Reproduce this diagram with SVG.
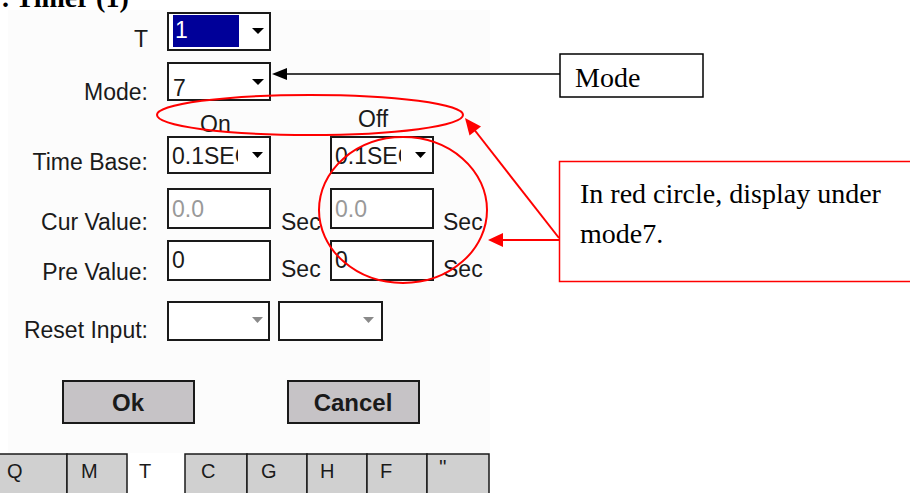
<svg xmlns="http://www.w3.org/2000/svg" width="910" height="493" viewBox="0 0 910 493">
<style>
.ui{font-family:"Liberation Sans",Arial,sans-serif;font-size:23px;fill:#1a1a1a}
.lbl{text-anchor:end}
.box{fill:#fff;stroke:#1a1a1a;stroke-width:2}
.btn{fill:#c6c3c6;stroke:#1a1a1a;stroke-width:2}
.tab{fill:#d0d0d0;stroke:#1a1a1a;stroke-width:1.5}
.tri{fill:#000}
.gtri{fill:#8a8a8a}
.grey{fill:#999}
.bold{font-weight:bold;font-size:24px;text-anchor:middle}
.ser{font-family:"Liberation Serif","Times New Roman",serif;fill:#000}
.red{fill:none;stroke:#f00;stroke-width:2}
.tk{font-size:20px}
</style>
<defs>
<clipPath id="c1"><rect x="168" y="137" width="70" height="36"/></clipPath>
<clipPath id="c2"><rect x="331" y="137" width="70" height="36"/></clipPath>
</defs>
<rect x="8" y="10" width="482" height="443" fill="#fcfcfc"/>
<text x="2" y="7" class="ser" font-size="28" font-weight="bold">. Timer (1)</text>

<g id="t-field">
<text x="148" y="47" class="ui lbl">T</text>
<rect x="168" y="13" width="102" height="37" class="box"/>
<rect x="173" y="15" width="66" height="32" fill="#000099"/>
<text x="175" y="38" class="ui" style="fill:#fff">1</text>
<polygon points="252,28 264,28 258,34" class="tri"/>
</g>

<g id="mode-field">
<text x="148" y="100" class="ui lbl">Mode:</text>
<rect x="168" y="63" width="102" height="37" class="box"/>
<text x="173" y="96" class="ui">7</text>
<polygon points="252,79 264,79 258,85" class="tri"/>
</g>

<g id="onoff">
<text x="200" y="132" class="ui">On</text>
<text x="358" y="127" class="ui">Off</text>
</g>

<g id="timebase">
<text x="148" y="170" class="ui lbl">Time Base:</text>
<rect x="168" y="137" width="102" height="36" class="box"/>
<text x="172" y="164" class="ui" clip-path="url(#c1)">0.1SEC</text>
<polygon points="252,152 263,152 257.5,158" class="tri"/>
<rect x="331" y="137" width="102" height="36" class="box"/>
<text x="335" y="164" class="ui" clip-path="url(#c2)">0.1SEC</text>
<polygon points="415,152 426,152 420.5,158" class="tri"/>
</g>

<g id="curvalue">
<text x="148" y="230" class="ui lbl">Cur Value:</text>
<rect x="168" y="189" width="102" height="39" class="box"/>
<text x="172" y="217" class="ui grey">0.0</text>
<text x="281" y="230" class="ui">Sec</text>
<rect x="331" y="189" width="102" height="39" class="box"/>
<text x="335" y="217" class="ui grey">0.0</text>
<text x="443" y="230" class="ui">Sec</text>
</g>

<g id="prevalue">
<text x="148" y="280" class="ui lbl">Pre Value:</text>
<rect x="168" y="241" width="102" height="39" class="box"/>
<text x="172" y="268" class="ui">0</text>
<text x="281" y="277" class="ui">Sec</text>
<rect x="331" y="241" width="102" height="39" class="box"/>
<text x="335" y="268" class="ui">0</text>
<text x="443" y="277" class="ui">Sec</text>
</g>

<g id="reset">
<text x="148" y="338" class="ui lbl">Reset Input:</text>
<rect x="168" y="302" width="101" height="38" class="box"/>
<polygon points="252,317 263,317 257.5,323" class="gtri"/>
<rect x="279" y="302" width="103" height="38" class="box"/>
<polygon points="363,317 374,317 368.5,323" class="gtri"/>
</g>

<g id="ok-btn">
<rect x="63" y="381" width="131" height="42" class="btn"/>
<text x="128" y="411" class="ui bold">Ok</text>
</g>
<g id="cancel-btn">
<rect x="288" y="381" width="131" height="42" class="btn"/>
<text x="353" y="411" class="ui bold">Cancel</text>
</g>

<g id="tabbar">
<rect x="-2" y="454" width="69" height="45" class="tab"/>
<rect x="67" y="454" width="60" height="45" class="tab"/>
<rect x="185" y="454" width="62" height="45" class="tab"/>
<rect x="247" y="454" width="60" height="45" class="tab"/>
<rect x="307" y="454" width="60" height="45" class="tab"/>
<rect x="367" y="454" width="60" height="45" class="tab"/>
<rect x="427" y="454" width="62" height="45" class="tab"/>
<text x="7" y="478" class="ui tk">Q</text>
<text x="81" y="478" class="ui tk">M</text>
<text x="139" y="478" class="ui tk">T</text>
<text x="201" y="478" class="ui tk">C</text>
<text x="261" y="478" class="ui tk">G</text>
<text x="320" y="478" class="ui tk">H</text>
<text x="380" y="478" class="ui tk">F</text>
<text x="439" y="474" class="ui tk">''</text>
</g>

<g id="mode-callout">
<rect x="560" y="54" width="143" height="43" fill="#fff" stroke="#000" stroke-width="1.5"/>
<text x="575" y="87" class="ser" font-size="28">Mode</text>
</g>

<g id="red-callout">
<rect x="559.5" y="161.5" width="360" height="120" fill="#fff" stroke="#f00" stroke-width="1.5"/>
<text x="580" y="203" class="ser" font-size="28">In red circle, display under</text>
<text x="580" y="243" class="ser" font-size="28">mode7.</text>
</g>

<g id="highlights">
<ellipse cx="310" cy="115" rx="153" ry="20" class="red"/>
<ellipse cx="403" cy="210" rx="84" ry="73" class="red"/>
</g>

<g id="connectors">
<line x1="560" y1="74" x2="285" y2="74" stroke="#000" stroke-width="1.5"/>
<polygon points="272,74 287,68 287,80" fill="#000"/>
<line x1="559" y1="240" x2="500" y2="240" stroke="#f00" stroke-width="2"/>
<polygon points="488,240 503,233 503,247" fill="#f00"/>
<line x1="559" y1="238" x2="473" y2="128" stroke="#f00" stroke-width="2"/>
<polygon points="465,118 469.5,135.5 481,126.5" fill="#f00"/>
</g>
</svg>
